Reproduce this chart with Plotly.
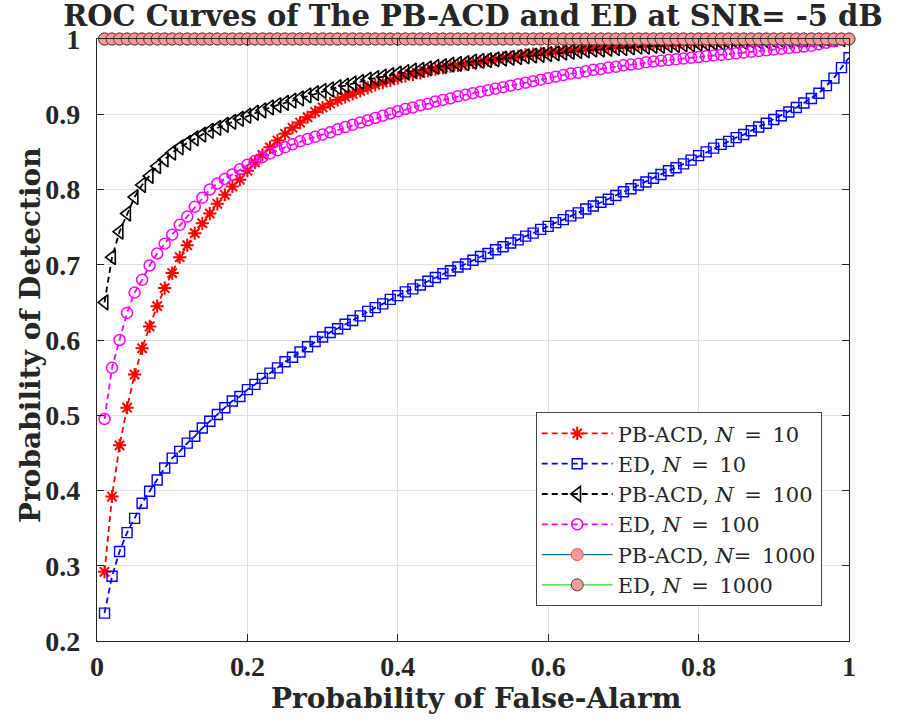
import plotly.graph_objects as go

# Probability of false alarm (x values)
pfa = [0.01, 0.02, 0.03, 0.04, 0.05, 0.06, 0.07, 0.08, 0.09, 0.10,
       0.11, 0.12, 0.13, 0.14, 0.15, 0.16, 0.17, 0.18, 0.19, 0.20,
       0.21, 0.22, 0.23, 0.24, 0.25, 0.26, 0.27, 0.28, 0.29, 0.30,
       0.31, 0.32, 0.33, 0.34, 0.35, 0.36, 0.37, 0.38, 0.39, 0.40,
       0.41, 0.42, 0.43, 0.44, 0.45, 0.46, 0.47, 0.48, 0.49, 0.50,
       0.51, 0.52, 0.53, 0.54, 0.55, 0.56, 0.57, 0.58, 0.59, 0.60,
       0.61, 0.62, 0.63, 0.64, 0.65, 0.66, 0.67, 0.68, 0.69, 0.70,
       0.71, 0.72, 0.73, 0.74, 0.75, 0.76, 0.77, 0.78, 0.79, 0.80,
       0.81, 0.82, 0.83, 0.84, 0.85, 0.86, 0.87, 0.88, 0.89, 0.90,
       0.91, 0.92, 0.93, 0.94, 0.95, 0.96, 0.97, 0.98, 0.99, 1.00]

pd_pbacd_10 = [0.292, 0.392, 0.460, 0.510, 0.554, 0.589, 0.618, 0.645, 0.669, 0.689,
               0.710, 0.726, 0.742, 0.755, 0.768, 0.781, 0.793, 0.804, 0.813, 0.825,
               0.836, 0.846, 0.856, 0.865, 0.874, 0.882, 0.889, 0.896, 0.903, 0.909,
               0.914, 0.919, 0.923, 0.927, 0.931, 0.935, 0.939, 0.942, 0.945, 0.948,
               0.951, 0.953, 0.955, 0.958, 0.960, 0.962, 0.964, 0.965, 0.967, 0.969,
               0.970, 0.972, 0.973, 0.975, 0.976, 0.977, 0.979, 0.980, 0.981, 0.982,
               0.983, 0.984, 0.985, 0.986, 0.987, 0.988, 0.989, 0.989, 0.990, 0.991,
               0.991, 0.992, 0.992, 0.993, 0.993, 0.994, 0.994, 0.995, 0.995, 0.995,
               0.996, 0.996, 0.996, 0.997, 0.997, 0.997, 0.998, 0.998, 0.998, 0.998,
               0.999, 0.999, 0.999, 0.999, 0.999, 1.000, 1.000, 1.000, 1.000, 1.000]

pd_ed_10 = [0.237, 0.286, 0.319, 0.344, 0.363, 0.383, 0.399, 0.414, 0.430, 0.443,
            0.452, 0.463, 0.472, 0.483, 0.492, 0.501, 0.510, 0.519, 0.525, 0.534,
            0.541, 0.549, 0.556, 0.563, 0.571, 0.577, 0.584, 0.591, 0.598, 0.604,
            0.610, 0.615, 0.621, 0.626, 0.632, 0.638, 0.643, 0.648, 0.654, 0.659,
            0.664, 0.668, 0.673, 0.678, 0.683, 0.688, 0.692, 0.697, 0.701, 0.706,
            0.711, 0.715, 0.720, 0.724, 0.729, 0.733, 0.738, 0.742, 0.747, 0.751,
            0.756, 0.760, 0.765, 0.769, 0.774, 0.778, 0.783, 0.787, 0.792, 0.797,
            0.801, 0.806, 0.810, 0.815, 0.820, 0.825, 0.829, 0.834, 0.839, 0.845,
            0.850, 0.855, 0.860, 0.864, 0.869, 0.873, 0.878, 0.883, 0.888, 0.893,
            0.898, 0.903, 0.909, 0.915, 0.921, 0.928, 0.938, 0.948, 0.962, 0.975]

pd_pbacd_100 = [0.650, 0.710, 0.744, 0.768, 0.790, 0.806, 0.818, 0.831, 0.840, 0.849,
                0.856, 0.862, 0.868, 0.873, 0.878, 0.882, 0.886, 0.890, 0.894, 0.898,
                0.902, 0.905, 0.909, 0.912, 0.915, 0.918, 0.921, 0.925, 0.928, 0.931,
                0.933, 0.936, 0.938, 0.941, 0.943, 0.946, 0.948, 0.950, 0.952, 0.954,
                0.956, 0.958, 0.959, 0.961, 0.963, 0.964, 0.966, 0.967, 0.968, 0.970,
                0.971, 0.972, 0.973, 0.974, 0.975, 0.976, 0.977, 0.978, 0.979, 0.980,
                0.981, 0.982, 0.983, 0.984, 0.985, 0.986, 0.986, 0.987, 0.988, 0.988,
                0.989, 0.990, 0.990, 0.991, 0.991, 0.992, 0.992, 0.993, 0.993, 0.994,
                0.994, 0.995, 0.995, 0.995, 0.996, 0.996, 0.997, 0.997, 0.997, 0.998,
                0.998, 0.998, 0.999, 0.999, 0.999, 0.999, 1.000, 1.000, 1.000, 1.000]

pd_ed_100 = [0.495, 0.563, 0.600, 0.636, 0.663, 0.680, 0.699, 0.715, 0.728, 0.740,
             0.753, 0.764, 0.777, 0.789, 0.800, 0.808, 0.814, 0.820, 0.827, 0.833,
             0.838, 0.843, 0.848, 0.852, 0.856, 0.860, 0.864, 0.867, 0.870, 0.873,
             0.876, 0.880, 0.883, 0.886, 0.889, 0.892, 0.895, 0.898, 0.901, 0.904,
             0.907, 0.909, 0.912, 0.914, 0.917, 0.919, 0.921, 0.924, 0.926, 0.928,
             0.930, 0.932, 0.934, 0.936, 0.938, 0.940, 0.942, 0.944, 0.946, 0.948,
             0.950, 0.952, 0.954, 0.955, 0.957, 0.959, 0.960, 0.962, 0.963, 0.965,
             0.966, 0.967, 0.969, 0.970, 0.971, 0.972, 0.973, 0.974, 0.975, 0.976,
             0.977, 0.978, 0.979, 0.980, 0.981, 0.982, 0.983, 0.984, 0.985, 0.986,
             0.987, 0.988, 0.989, 0.990, 0.991, 0.993, 0.995, 0.997, 0.999, 1.000]

pd_pbacd_1000 = [1.0, 1.0, 1.0, 1.0, 1.0, 1.0, 1.0, 1.0, 1.0, 1.0,
                 1.0, 1.0, 1.0, 1.0, 1.0, 1.0, 1.0, 1.0, 1.0, 1.0,
                 1.0, 1.0, 1.0, 1.0, 1.0, 1.0, 1.0, 1.0, 1.0, 1.0,
                 1.0, 1.0, 1.0, 1.0, 1.0, 1.0, 1.0, 1.0, 1.0, 1.0,
                 1.0, 1.0, 1.0, 1.0, 1.0, 1.0, 1.0, 1.0, 1.0, 1.0,
                 1.0, 1.0, 1.0, 1.0, 1.0, 1.0, 1.0, 1.0, 1.0, 1.0,
                 1.0, 1.0, 1.0, 1.0, 1.0, 1.0, 1.0, 1.0, 1.0, 1.0,
                 1.0, 1.0, 1.0, 1.0, 1.0, 1.0, 1.0, 1.0, 1.0, 1.0,
                 1.0, 1.0, 1.0, 1.0, 1.0, 1.0, 1.0, 1.0, 1.0, 1.0,
                 1.0, 1.0, 1.0, 1.0, 1.0, 1.0, 1.0, 1.0, 1.0, 1.0]

pd_ed_1000 = [1.0, 1.0, 1.0, 1.0, 1.0, 1.0, 1.0, 1.0, 1.0, 1.0,
              1.0, 1.0, 1.0, 1.0, 1.0, 1.0, 1.0, 1.0, 1.0, 1.0,
              1.0, 1.0, 1.0, 1.0, 1.0, 1.0, 1.0, 1.0, 1.0, 1.0,
              1.0, 1.0, 1.0, 1.0, 1.0, 1.0, 1.0, 1.0, 1.0, 1.0,
              1.0, 1.0, 1.0, 1.0, 1.0, 1.0, 1.0, 1.0, 1.0, 1.0,
              1.0, 1.0, 1.0, 1.0, 1.0, 1.0, 1.0, 1.0, 1.0, 1.0,
              1.0, 1.0, 1.0, 1.0, 1.0, 1.0, 1.0, 1.0, 1.0, 1.0,
              1.0, 1.0, 1.0, 1.0, 1.0, 1.0, 1.0, 1.0, 1.0, 1.0,
              1.0, 1.0, 1.0, 1.0, 1.0, 1.0, 1.0, 1.0, 1.0, 1.0,
              1.0, 1.0, 1.0, 1.0, 1.0, 1.0, 1.0, 1.0, 1.0, 1.0]

series_names = ["PB-ACD, <i>N</i>\u2002=\u200210", "ED, <i>N</i>\u2002=\u200210",
                "PB-ACD, <i>N</i>\u2002=\u2002100", "ED, <i>N</i>\u2002=\u2002100",
                "PB-ACD, <i>N</i>=\u20021000", "ED, <i>N</i>\u2002=\u20021000"]

x_tick_vals = [0, 0.2, 0.4, 0.6, 0.8, 1]
x_tick_text = ["0", "0.2", "0.4", "0.6", "0.8", "1"]
y_tick_vals = [0.2, 0.3, 0.4, 0.5, 0.6, 0.7, 0.8, 0.9, 1]
y_tick_text = ["0.2", "0.3", "0.4", "0.5", "0.6", "0.7", "0.8", "0.9", "1"]

DASH = "6px,4px"
fig = go.Figure()

fig.add_trace(go.Scatter(
    x=pfa, y=pd_pbacd_10, name=series_names[0], mode="lines+markers",
    line=dict(color="#FF0000", width=1.8, dash=DASH),
    marker=dict(symbol="asterisk-open", size=11, color="#FF0000",
                line=dict(color="#FF0000", width=2.0))))
fig.add_trace(go.Scatter(
    x=pfa, y=pd_ed_10, name=series_names[1], mode="lines+markers",
    line=dict(color="#0000FF", width=1.8, dash=DASH),
    marker=dict(symbol="square-open", size=10, color="#0000FF",
                line=dict(color="#0000FF", width=1.4))))
fig.add_trace(go.Scatter(
    x=pfa, y=pd_pbacd_100, name=series_names[2], mode="lines+markers",
    line=dict(color="#000000", width=1.8, dash=DASH),
    marker=dict(symbol="triangle-left-open", size=13, color="#000000",
                line=dict(color="#000000", width=1.6))))
fig.add_trace(go.Scatter(
    x=pfa, y=pd_ed_100, name=series_names[3], mode="lines+markers",
    line=dict(color="#FF00FF", width=1.8, dash=DASH),
    marker=dict(symbol="circle-open", size=11, color="#FF00FF",
                line=dict(color="#FF00FF", width=1.5))))
fig.add_trace(go.Scatter(
    x=pfa, y=pd_pbacd_1000, name=series_names[4], mode="lines+markers",
    cliponaxis=False,
    line=dict(color="#0072BD", width=1.2),
    marker=dict(symbol="circle", size=12, color="#F99A9A",
                line=dict(color="#E8504A", width=1.0))))
fig.add_trace(go.Scatter(
    x=pfa, y=pd_ed_1000, name=series_names[5], mode="lines+markers",
    cliponaxis=False,
    line=dict(color="#22DD22", width=1.2),
    marker=dict(symbol="circle", size=12, color="#F99A9A",
                line=dict(color="#404040", width=1.0))))

tickfont = dict(family="Liberation Serif", size=28, color="#262626", weight="bold")
labfont = dict(family="DejaVu Serif", size=28, color="#262626", weight="bold")

axis_common = dict(
    showgrid=True, gridcolor="#DFDFDF", gridwidth=1, zeroline=False,
    showline=True, linecolor="#262626", linewidth=1.3, mirror="ticks",
    ticks="inside", ticklen=7, tickwidth=1.3, tickcolor="#262626",
    tickfont=tickfont)

fig.update_layout(
    width=899, height=724,
    margin=dict(l=97, r=50, t=39, b=83),
    paper_bgcolor="white", plot_bgcolor="white",
    title=dict(text="ROC Curves of The PB-ACD and ED at SNR= -5 dB",
               font=dict(family="DejaVu Serif", size=29, color="#262626", weight="bold"),
               x=0.5, xref="paper", xanchor="center",
               y=1 - 16 / 724, yref="container", yanchor="middle"),
    xaxis=dict(range=[0, 1], tickvals=x_tick_vals, ticktext=x_tick_text,
               ticklabelstandoff=0, **axis_common),
    yaxis=dict(range=[0.2, 1], tickvals=y_tick_vals, ticktext=y_tick_text,
               ticklabelstandoff=10, **axis_common),
    legend=dict(x=0.5834, y=0.38, xanchor="left", yanchor="top",
                bgcolor="white", bordercolor="#444444", borderwidth=1,
                font=dict(family="DejaVu Serif", size=21, color="#262626"),
                itemwidth=71, tracegroupgap=0),
    showlegend=True,
    annotations=[
        dict(text="Probability of False-Alarm", xref="paper", yref="paper",
             x=0.5, y=0, xanchor="center", yanchor="middle", xshift=3, yshift=-57,
             showarrow=False, font=labfont),
        dict(text="Probability of Detection", xref="paper", yref="paper",
             x=0, y=0.5, xanchor="center", yanchor="middle", xshift=-67, yshift=5,
             textangle=-90, showarrow=False, font=labfont),
    ],
)

fig.write_html("out.html",
               config={"displayModeBar": False},
               post_script="document.body.style.margin='0';document.body.style.padding='0';")
